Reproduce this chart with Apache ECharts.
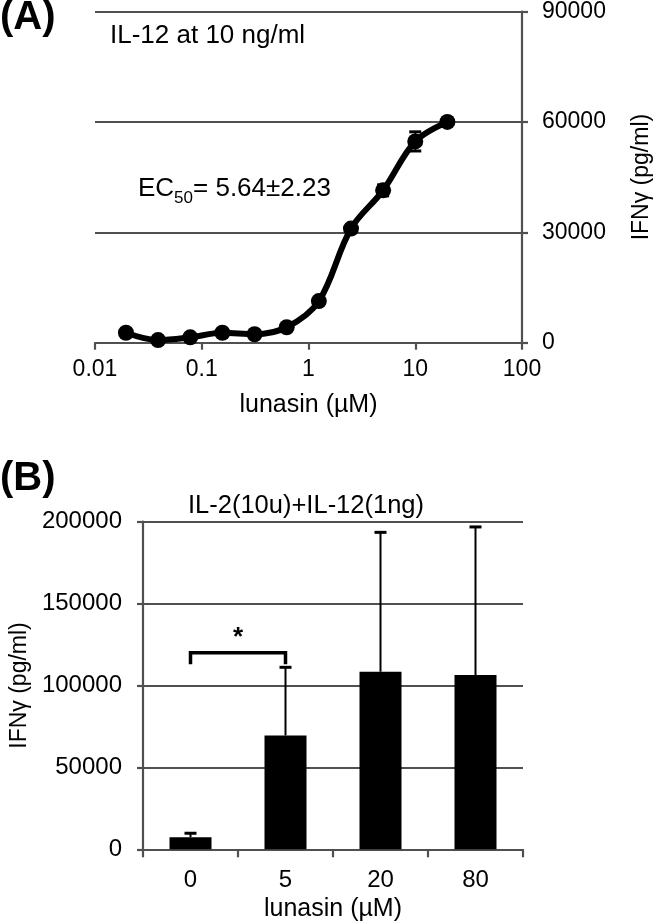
<!DOCTYPE html>
<html>
<head>
<meta charset="utf-8">
<script src="https://cdn.jsdelivr.net/npm/echarts@6/dist/echarts.min.js"></script>
<style>
  html, body { margin: 0; padding: 0; background: #fff; }
  #chart { width: 661px; height: 924px; }
</style>
</head>
<body>
<div id="chart"></div>
<script>
// ===== Data =====
// (A) dose-response, two-fold dilutions of lunasin
const doseA = [0.0195, 0.039, 0.078, 0.156, 0.3125, 0.625, 1.25, 2.5, 5, 10, 20];
const ifnA  = [2700, 700, 1450, 2700, 2300, 4200, 11300, 31000, 41400, 54700, 60000];
const errA  = [400, 300, 300, 400, 400, 500, 800, 900, 1500, 2600, 700];
const ticksA = [0, 30000, 60000, 90000];

// (B) IL-2 + IL-12 co-stimulation
const doseB = ['0', '5', '20', '80'];
const ifnB  = [7400, 69500, 108400, 106400];
const errB  = [2400, 41600, 85100, 90400];
const ticksB = [0, 50000, 100000, 150000, 200000];
// significance bracket between dose 0 and dose 5
const sigPair = [0, 1];
const sigLevel = 120000;
const sigLeg = 113000;

const FONT = '"Liberation Sans", Arial, sans-serif';
const GRID_C = '#505050';

const chart = echarts.init(document.getElementById('chart'));

function axisLine() { return { show: true, lineStyle: { color: GRID_C, width: 2.2 } }; }
function axisTick(len) { return { show: true, length: len, lineStyle: { color: GRID_C, width: 2.2 } }; }
function label(size, margin) {
  return { color: '#000', fontFamily: FONT, fontSize: size, margin: margin, formatter: v => String(v) };
}
function nameStyle(size) { return { color: '#000', fontFamily: FONT, fontSize: size }; }

// error bars: value[0]=x, value[1]=low, value[2]=high
function errRender(capHalf, lowerCap, width) {
  return function (params, api) {
    const x = api.value(0);
    const lo = api.coord([x, api.value(1)]);
    const hi = api.coord([x, api.value(2)]);
    const st = { stroke: '#000', lineWidth: width };
    const cap = { stroke: '#000', lineWidth: 3 };
    const kids = [
      { type: 'line', shape: { x1: lo[0], y1: lo[1], x2: hi[0], y2: hi[1] }, style: st },
      { type: 'line', shape: { x1: hi[0] - capHalf, y1: hi[1], x2: hi[0] + capHalf, y2: hi[1] }, style: cap },
    ];
    if (lowerCap) kids.push({ type: 'line', shape: { x1: lo[0] - capHalf, y1: lo[1], x2: lo[0] + capHalf, y2: lo[1] }, style: cap });
    return { type: 'group', children: kids };
  };
}

chart.setOption({
  animation: false,
  grid: [
    { left: 95, width: 437, top: 9.5, height: 333.2 },
    { left: 134, width: 389, top: 521.7, height: 327.6 },
  ],
  xAxis: [
    {
      type: 'log', logBase: 10, min: 0.01, max: 100, gridIndex: 0,
      axisLine: axisLine(), axisTick: axisTick(7),
      axisLabel: label(23, 15), splitLine: { show: false },
      name: 'lunasin (µM)', nameLocation: 'middle', nameGap: 50, nameTextStyle: nameStyle(25),
    },
    {
      type: 'category', data: doseB, gridIndex: 1,
      axisLine: axisLine(), axisTick: axisTick(8),
      axisLabel: label(24, 19),
      name: 'lunasin (µM)', nameLocation: 'middle', nameGap: 47, nameTextStyle: nameStyle(25),
    },
  ],
  yAxis: [
    {
      type: 'value', gridIndex: 0, position: 'right',
      min: ticksA[0], max: ticksA[ticksA.length - 1], interval: ticksA[1] - ticksA[0],
      axisLine: axisLine(), axisTick: axisTick(6),
      axisLabel: label(23, 20),
      splitLine: { show: true, lineStyle: { color: GRID_C, width: 2.2 } },
      name: 'IFNγ (pg/ml)', nameLocation: 'middle', nameRotate: 90, nameGap: 108, nameTextStyle: nameStyle(23),
    },
    {
      type: 'value', gridIndex: 1,
      min: ticksB[0], max: ticksB[ticksB.length - 1], interval: ticksB[1] - ticksB[0],
      axisLine: axisLine(), axisTick: axisTick(6),
      axisLabel: label(24, 21),
      splitLine: { show: true, lineStyle: { color: GRID_C, width: 2.2 } },
      name: 'IFNγ (pg/ml)', nameLocation: 'middle', nameRotate: 90, nameGap: 112, nameTextStyle: nameStyle(23),
    },
  ],
  graphic: [
    { type: 'text', left: 0, top: -2, style: { text: '(A)', font: 'bold 40px ' + FONT, fill: '#000' } },
    { type: 'text', left: 0, top: 459, style: { text: '(B)', font: 'bold 40px ' + FONT, fill: '#000' } },
    { type: 'text', left: 110, top: 23, style: { text: 'IL-12 at 10 ng/ml', font: '26px ' + FONT, fill: '#000' } },
    { type: 'text', left: 138, top: 176, style: {
        text: '{a|EC}{b|50}{a|= 5.64±2.23}', fill: '#000',
        rich: {
          a: { fontFamily: FONT, fontSize: 26, lineHeight: 32, verticalAlign: 'bottom' },
          b: { fontFamily: FONT, fontSize: 17, lineHeight: 32, verticalAlign: 'bottom', padding: [0, 0, -5, 0] },
        } } },
    { type: 'text', left: 188, top: 493, style: { text: 'IL-2(10u)+IL-12(1ng)', font: '25.5px ' + FONT, fill: '#000' } },
  ],
  series: [
    {
      type: 'custom', xAxisIndex: 0, yAxisIndex: 0, z: 1,
      renderItem: errRender(6, true, 2),
      data: doseA.map((d, i) => [d, ifnA[i] - errA[i], ifnA[i] + errA[i]]),
    },
    {
      type: 'line', xAxisIndex: 0, yAxisIndex: 0, z: 3,
      data: doseA.map((d, i) => [d, ifnA[i]]),
      smooth: 0.35, symbol: 'circle', symbolSize: 16,
      lineStyle: { color: '#000', width: 6 }, itemStyle: { color: '#000' },
    },
    {
      type: 'bar', xAxisIndex: 1, yAxisIndex: 1, z: 2,
      data: ifnB, barWidth: 42, itemStyle: { color: '#000' },
    },
    {
      type: 'custom', xAxisIndex: 1, yAxisIndex: 1, z: 1,
      renderItem: errRender(6, false, 2),
      data: ifnB.map((v, i) => [i, v, v + errB[i]]),
    },
    {
      // significance bracket
      type: 'custom', xAxisIndex: 1, yAxisIndex: 1, z: 4,
      renderItem: function (params, api) {
        const a = api.coord([api.value(0), api.value(3)]);
        const b = api.coord([api.value(1), api.value(3)]);
        const top = api.coord([api.value(0), api.value(2)])[1];
        return { type: 'group', children: [
          { type: 'polyline', shape: { points: [[a[0], a[1]], [a[0], top], [b[0], top], [b[0], b[1]]] },
            style: { stroke: '#000', lineWidth: 3.5, fill: null } },
          { type: 'text', style: { text: '*', x: (a[0] + b[0]) / 2, y: top - 2, align: 'center', verticalAlign: 'bottom',
            font: 'bold 26px ' + FONT, fill: '#000' } },
        ] };
      },
      data: [[sigPair[0], sigPair[1], sigLevel, sigLeg]],
    },
  ],
});
</script>
</body>
</html>
